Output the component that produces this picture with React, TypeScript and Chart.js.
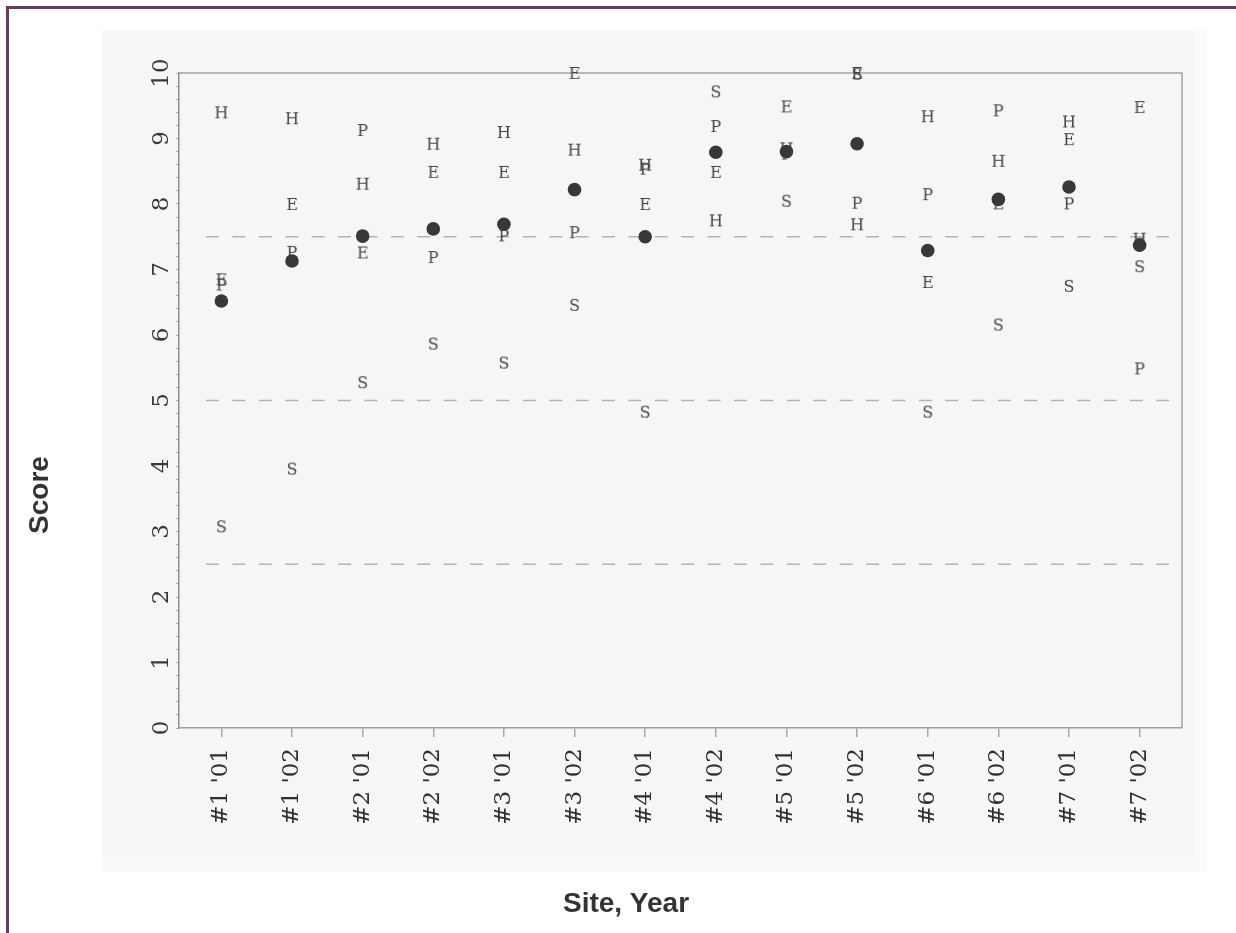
import { useEffect, useRef } from 'react';
import { Chart, registerables } from 'chart.js';

Chart.register(...registerables);

// Site / year categories along the x axis
const siteYears = [
  "#1 '01", "#1 '02", "#2 '01", "#2 '02", "#3 '01", "#3 '02", "#4 '01",
  "#4 '02", "#5 '01", "#5 '02", "#6 '01", "#6 '02", "#7 '01", "#7 '02",
];

// Component scores per site-year (plotted as letters)
const hScores = [9.40, 9.31, 8.31, 8.92, 9.10, 8.83, 8.60, 7.75, 8.85, 7.69, 9.34, 8.66, 9.26, 7.47];
const eScores = [6.85, 8.00, 7.26, 8.49, 8.49, 10.0, 8.00, 8.49, 9.49, 10.0, 6.81, 8.01, 8.99, 9.48];
const pScores = [6.77, 7.27, 9.13, 7.19, 7.52, 7.57, 8.54, 9.19, 8.77, 8.02, 8.15, 9.43, 8.01, 5.49];
const sScores = [3.08, 3.96, 5.28, 5.87, 5.58, 6.46, 4.83, 9.72, 8.05, 9.99, 4.83, 6.16, 6.75, 7.05];

// Overall score per site-year (filled dots)
const overallScores = [6.52, 7.13, 7.51, 7.62, 7.69, 8.22, 7.50, 8.79, 8.80, 8.92, 7.29, 8.07, 8.26, 7.37];

// Y axis labels and dashed reference levels
const yTickLabels = [0, 1, 2, 3, 4, 5, 6, 7, 8, 9, 10];
const referenceLevels = [2.5, 5, 7.5];

const letterSeries = [
  { letter: 'H', values: hScores },
  { letter: 'E', values: eScores },
  { letter: 'P', values: pScores },
  { letter: 'S', values: sScores },
];

function letterSprite(letter: string): HTMLCanvasElement {
  const c = document.createElement('canvas');
  c.width = 26;
  c.height = 26;
  const g = c.getContext('2d')!;
  g.font = '16px "DejaVu Serif"';
  g.fillStyle = '#454545';
  g.textAlign = 'center';
  g.textBaseline = 'alphabetic';
  g.fillText(letter, 13, 18.8);
  return c;
}

const toPoints = (values: number[]) => values.map((y, i) => ({ x: i + 1, y }));

const decorPlugin = {
  id: 'decor',
  beforeDraw(chart: any) {
    const { ctx, width, height } = chart;
    ctx.save();
    ctx.fillStyle = '#ffffff';
    ctx.fillRect(0, 0, width, height);
    ctx.fillStyle = '#fbfafa';
    ctx.fillRect(102, 29, 1105, 843);
    ctx.fillStyle = '#f8f6f5';
    ctx.fillRect(102, 31, 1092, 825);
    ctx.strokeStyle = '#6b3a63';
    ctx.lineWidth = 3;
    ctx.beginPath();
    ctx.moveTo(7.5, height);
    ctx.lineTo(7.5, 7.5);
    ctx.lineTo(width, 7.5);
    ctx.stroke();
    ctx.restore();
  },
  beforeDatasetsDraw(chart: any) {
    const { ctx, chartArea } = chart;
    const { left, right, top, bottom } = chartArea;
    const ys = chart.scales.y;
    ctx.save();
    ctx.strokeStyle = '#a3a3a3';
    ctx.lineWidth = 1.5;
    ctx.beginPath();
    ctx.moveTo(left, top);
    ctx.lineTo(right, top);
    ctx.lineTo(right, bottom);
    ctx.stroke();
    ctx.strokeStyle = '#b4b4b4';
    ctx.setLineDash([13, 13.4]);
    referenceLevels.forEach((v) => {
      const y = ys.getPixelForValue(v);
      ctx.beginPath();
      ctx.moveTo(left + 27, y);
      ctx.lineTo(right - 13, y);
      ctx.stroke();
    });
    ctx.restore();
  },
  afterDraw(chart: any) {
    const { ctx } = chart;
    const ys = chart.scales.y;
    ctx.save();
    ctx.fillStyle = '#3a3a3a';
    ctx.font = '23px "DejaVu Serif"';
    ctx.textAlign = 'center';
    ctx.textBaseline = 'middle';
    yTickLabels.forEach((v) => {
      const py = ys.getPixelForValue(v);
      ctx.save();
      ctx.translate(162, py);
      ctx.rotate(-Math.PI / 2);
      ctx.fillText(String(v), 0, 0);
      ctx.restore();
    });
    ctx.fillStyle = '#333333';
    ctx.font = 'bold 28px "Liberation Sans"';
    ctx.save();
    ctx.translate(40, 495);
    ctx.rotate(-Math.PI / 2);
    ctx.fillText('Score', 0, 0);
    ctx.restore();
    ctx.fillText('Site, Year', 626, 904);
    ctx.restore();
  },
};

export default function App() {
  const canvasRef = useRef<HTMLCanvasElement>(null);

  useEffect(() => {
    const datasets: any[] = [
      {
        type: 'scatter',
        label: 'Overall',
        data: toPoints(overallScores),
        pointStyle: 'circle',
        pointRadius: 6.8,
        pointHoverRadius: 6.8,
        backgroundColor: '#383838',
        borderColor: '#383838',
        borderWidth: 0,
        clip: false,
      },
      ...letterSeries.map((s) => ({
        type: 'scatter',
        label: s.letter,
        data: toPoints(s.values),
        pointStyle: letterSprite(s.letter),
        pointRadius: 10,
        clip: false,
      })),
    ];

    const chart = new Chart(canvasRef.current!, {
      type: 'scatter',
      data: { datasets },
      plugins: [decorPlugin],
      options: {
        animation: false,
        responsive: false,
        devicePixelRatio: 1,
        layout: { padding: { left: 0, top: 73, right: 54, bottom: 0 } },
        plugins: { legend: { display: false }, tooltip: { enabled: false } },
        scales: {
          x: {
            type: 'linear',
            min: 0.4,
            max: 14.6,
            afterBuildTicks: (scale: any) => {
              scale.ticks = siteYears.map((_, i) => ({ value: i + 1 }));
            },
            afterFit: (scale: any) => {
              scale.height = 205;
            },
            ticks: {
              autoSkip: false,
              minRotation: 90,
              maxRotation: 90,
              padding: 11,
              color: '#303030',
              font: { family: '"DejaVu Serif"', size: 23 },
              callback: (v: any) => siteYears[Math.round(Number(v)) - 1] ?? '',
            },
            grid: {
              display: true,
              drawOnChartArea: false,
              drawTicks: true,
              tickLength: 9,
              color: '#a8a8a8',
              lineWidth: 1.5,
            },
            border: { display: true, color: '#a0a0a0', width: 1.5 },
          },
          y: {
            type: 'linear',
            min: 0,
            max: 10,
            afterFit: (scale: any) => {
              scale.width = 179;
            },
            ticks: { display: false, stepSize: 0.2 },
            grid: {
              display: true,
              drawOnChartArea: false,
              drawTicks: true,
              tickLength: 3,
              color: '#b3b3b3',
              lineWidth: 1,
            },
            border: { display: true, color: '#8e8e8e', width: 1.5 },
          },
        },
      } as any,
    });
    return () => chart.destroy();
  }, []);

  return (
    <div style={{ position: 'absolute', left: 0, top: 0, width: 1236, height: 933 }}>
      <canvas ref={canvasRef} width={1236} height={933} style={{ display: 'block', width: 1236, height: 933 }} />
    </div>
  );
}
